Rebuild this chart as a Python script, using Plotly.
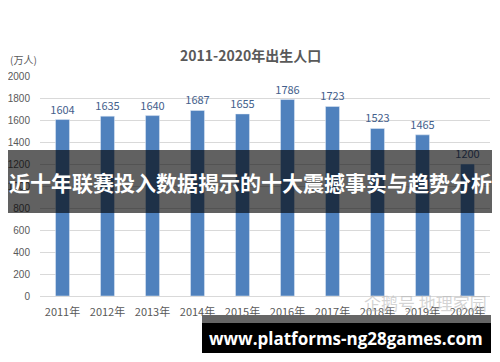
import plotly.graph_objects as go

years = ["2011年", "2012年", "2013年", "2014年", "2015年", "2016年", "2017年", "2018年", "2019年", "2020年"]
births = [1604, 1635, 1640, 1687, 1655, 1786, 1723, 1523, 1465, 1200]
y_ticks = [0, 200, 400, 600, 800, 1000, 1200, 1400, 1600, 1800, 2000]

title_text = "<b>2011-2020年出生人口</b>"
unit_text = "(万人)"
banner_text = "<b>近十年联赛投入数据揭示的十大震撼事实与趋势分析</b>"
url_text = "<b>www.platforms-ng28games.com</b>"
watermark_text = "企鹅号 地理家园"

FONT = "Noto Sans CJK SC, Open Sans, sans-serif"

# the page body has an 8px default margin; plot area spans screen x 40..490, y 76..296
def px(sx):
    return (sx - 40) / 450

def py(sy):
    return (296 - sy) / 220

fig = go.Figure()
fig.add_trace(go.Bar(
    x=years, y=births,
    marker_color="#4F81BD",
    width=0.31,
    text=[str(v) for v in births],
    textposition="outside",
    constraintext="none",
    textfont=dict(color="#44608c", size=11, family=FONT),
    cliponaxis=False,
))

fig.update_layout(
    width=492, height=354,
    margin=dict(l=32, r=10, t=68, b=66),
    paper_bgcolor="white", plot_bgcolor="white",
    showlegend=False,
    font=dict(family=FONT, color="#595959", size=11),
    xaxis=dict(showgrid=False, showline=True, linecolor="#D9D9D9", linewidth=1,
               ticks="", ticklabelstandoff=6, automargin=False,
               tickfont=dict(size=11, color="#595959")),
    yaxis=dict(range=[0, 2000], tickvals=y_ticks, showgrid=True, gridcolor="#D9D9D9",
               zeroline=False, ticks="", ticklabelstandoff=9, automargin=False,
               tickfont=dict(size=10, color="#595959", family="Liberation Sans, sans-serif")),
)

# title and unit
fig.add_annotation(text=title_text, xref="paper", yref="paper", x=px(250), y=py(55),
                   xanchor="center", yanchor="middle", showarrow=False,
                   font=dict(size=14, color="#595959", family=FONT))
fig.add_annotation(text=unit_text, xref="paper", yref="paper", x=px(8), y=py(60),
                   xanchor="left", yanchor="middle", showarrow=False,
                   font=dict(size=10, color="#595959", family=FONT))

# dark banner
fig.add_shape(type="rect", xref="paper", yref="paper",
              x0=px(8), x1=px(492), y0=py(213), y1=py(150),
              fillcolor="rgba(0,0,0,0.62)", line_width=0, layer="above")
fig.add_annotation(text=banner_text, xref="paper", yref="paper",
                   x=px(250), y=py(182), xanchor="center", yanchor="middle",
                   showarrow=False, font=dict(size=21, color="white", family=FONT))

# watermark
fig.add_annotation(text=watermark_text, xref="paper", yref="paper",
                   x=px(425), y=py(302), xanchor="center", yanchor="middle",
                   showarrow=False, font=dict(size=17, color="rgba(175,175,175,0.55)", family=FONT))

# bottom url banner
fig.add_shape(type="rect", xref="paper", yref="paper",
              x0=px(202), x1=px(491), y0=py(323), y1=py(315),
              fillcolor="#666666", line_width=0, layer="above")
fig.add_shape(type="rect", xref="paper", yref="paper",
              x0=px(202), x1=px(491), y0=py(353), y1=py(323),
              fillcolor="#000000", line_width=0, layer="above")
fig.add_annotation(text=url_text, xref="paper", yref="paper",
                   x=px(346), y=py(338), xanchor="center", yanchor="middle",
                   showarrow=False, font=dict(size=17, color="white", family="Open Sans, sans-serif"))

fig.write_html("out.html")
